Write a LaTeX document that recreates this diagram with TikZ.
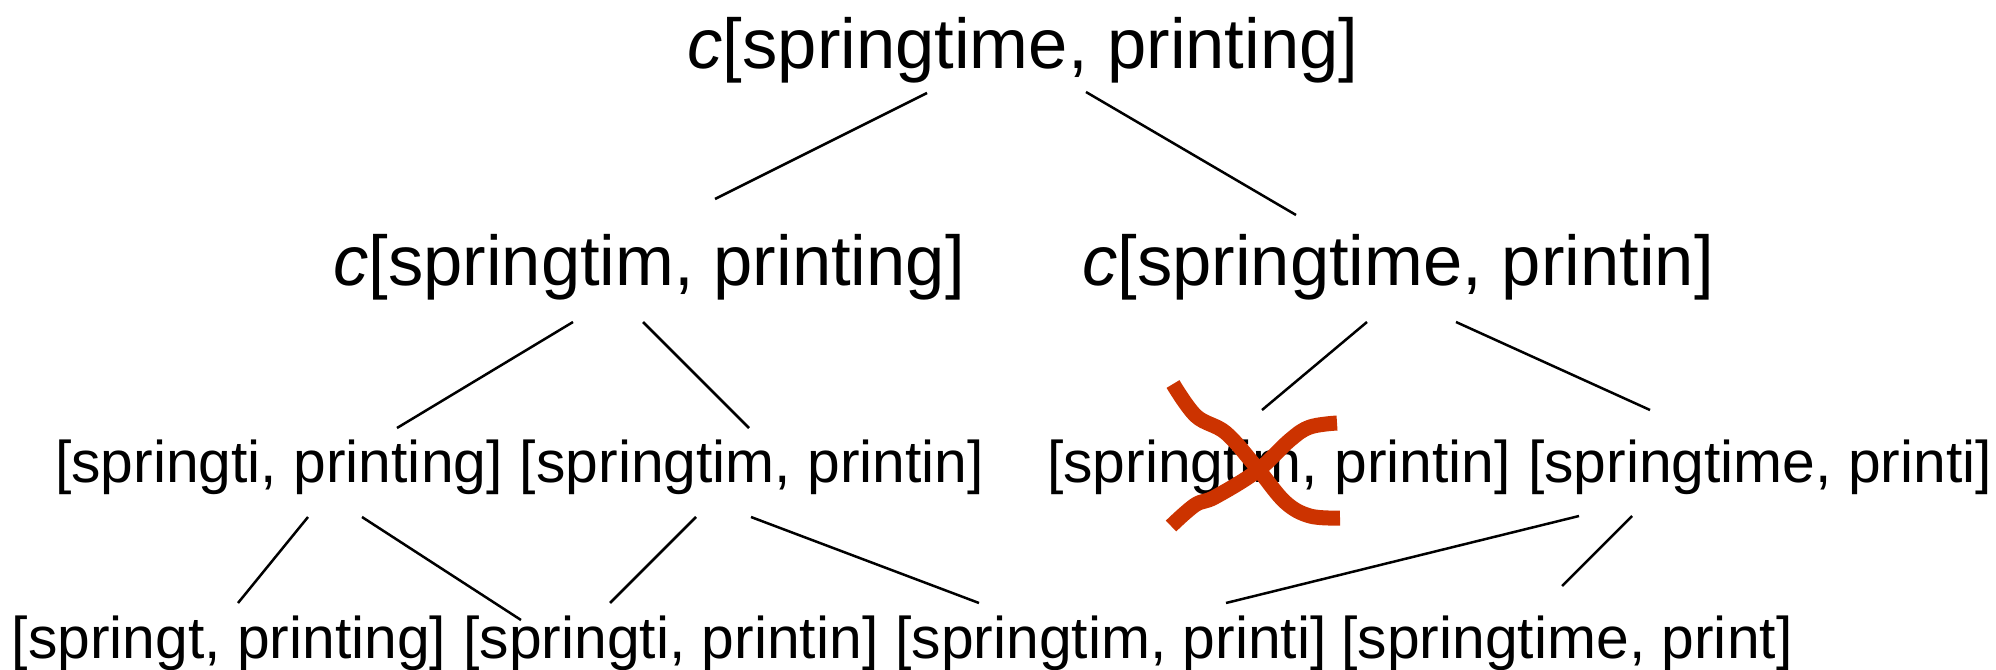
\documentclass[tikz,border=0pt]{standalone}
\usepackage{fontspec}
\setmainfont{Liberation Sans}
\usetikzlibrary{calc}
\definecolor{crossred}{RGB}{204,51,0}
\tikzset{
  big/.style={anchor=base, inner sep=0pt, font=\fontsize{70.6}{84}\selectfont},
  small/.style={anchor=base, inner sep=0pt, font=\fontsize{58.8}{70}\selectfont},
  edge/.style={line width=2.5pt, black},
  crossline/.style={line width=15pt, crossred, line cap=butt}
}
\begin{document}
\begin{tikzpicture}[x=1pt, y=-1pt]
\useasboundingbox (0,0) rectangle (1996,669);
% nodes
\node[big] (r1) at (1023,68) {\textit{c}[springtime, printing]};
\node[big] (r2a) at (649,285) {\textit{c}[springtim, printing]};
\node[big] (r2b) at (1398,285) {\textit{c}[springtime, printin]};
\node[small] (r3a) at (279,482) {[springti, printing]};
\node[small] (r3b) at (752,482) {[springtim, printin]};
\node[small] (r3c) at (1279,482) {[springtim, printin]};
\node[small] (r3d) at (1760,482) {[springtime, printi]};
\node[small] (r4a) at (229,658) {[springt, printing]};
\node[small] (r4b) at (671,658) {[springti, printin]};
\node[small] (r4c) at (1111,658) {[springtim, printi]};
\node[small] (r4d) at (1567,658) {[springtime, print]};
% connectors
\draw[edge] ($(r1.base)+(-96,25)$) -- ($(r2a.base)+(66,-86)$);
\draw[edge] ($(r1.base)+(63,24)$) -- ($(r2b.base)+(-102,-70)$);
\draw[edge] ($(r2a.base)+(-76,37)$) -- ($(r3a.base)+(118,-54)$);
\draw[edge] ($(r2a.base)+(-6,37)$) -- ($(r3b.base)+(-3,-54)$);
\draw[edge] ($(r2b.base)+(-31,37)$) -- ($(r3c.base)+(-17,-72)$);
\draw[edge] ($(r2b.base)+(58,37)$) -- ($(r3d.base)+(-110,-72)$);
\draw[edge] ($(r3a.base)+(29,35)$) -- ($(r4a.base)+(9,-55)$);
\draw[edge] ($(r3a.base)+(83,35)$) -- ($(r4b.base)+(-150,-38)$);
\draw[edge] ($(r3b.base)+(-56,35)$) -- ($(r4b.base)+(-61,-55)$);
\draw[edge] ($(r3b.base)+(-1,35)$) -- ($(r4c.base)+(-132,-55)$);
\draw[edge] ($(r3d.base)+(-181,34)$) -- ($(r4c.base)+(115,-55)$);
\draw[edge] ($(r3d.base)+(-128,34)$) -- ($(r4d.base)+(-5,-72)$);
% red cross
\draw[crossline] plot[smooth, tension=0.6] coordinates {(1173,384) (1196,416) (1226,433) (1257,468) (1285,502) (1310,516) (1340,518)};
\draw[crossline] plot[smooth, tension=0.6] coordinates {(1171,526) (1195,505) (1215,497) (1257,471) (1290,440) (1310,427) (1337,423)};
\end{tikzpicture}
\end{document}
